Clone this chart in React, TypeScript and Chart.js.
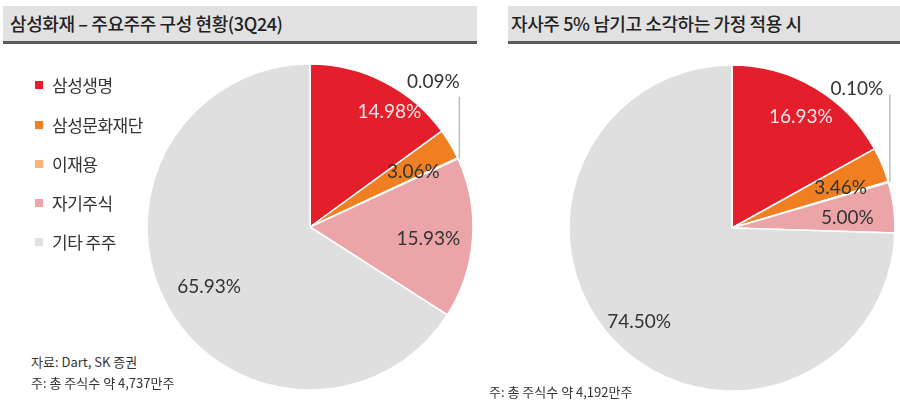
import React, { useEffect, useRef } from "react";
import { Chart, registerables } from "chart.js";

Chart.register(...registerables);

// ---- data ----
const CATEGORIES = ["삼성생명", "삼성문화재단", "이재용", "자기주식", "기타 주주"];
const CURRENT_SHARES = [14.98, 3.06, 0.09, 15.93, 65.93];
const AFTER_SHARES = [16.93, 3.46, 0.1, 5.0, 74.5];
const LEFT_TITLE = "삼성화재 – 주요주주 구성 현황(3Q24)";
const RIGHT_TITLE = "자사주 5% 남기고 소각하는 가정 적용 시";
const LEFT_NOTES = ["자료: Dart, SK 증권", "주: 총 주식수 약 4,737만주"];
const RIGHT_NOTES = ["주: 총 주식수 약 4,192만주"];

// ---- styles ----
const COLORS = ["#E41E2B", "#F07F22", "#FBB37A", "#EBA5A8", "#DFDFDF"];
const LABEL_COLORS = ["rgba(255,255,255,0.9)", "#333", "#333", "#333", "#333"];
const KR = '"Noto Sans CJK KR", "Noto Sans", sans-serif';

type LabelCfg = {
  radius: number[];
  nudge: number[];
  leaderIndex: number;
  leaderTop: number;
  leaderDx: number;
  leaderDy: number;
};

const LEFT_CFG: LabelCfg = {
  radius: [0.86, 0.72, 0, 0.73, 0.72],
  nudge: [7.5, 2.3, 0, 1.7, -2],
  leaderIndex: 2,
  leaderTop: 0.8,
  leaderDx: -26,
  leaderDy: -15,
};
const RIGHT_CFG: LabelCfg = {
  radius: [0.8, 0.71, 0, 0.71, 0.81],
  nudge: [1.4, 2.5, 0, 2.2, -1.2],
  leaderIndex: 2,
  leaderTop: 0.82,
  leaderDx: -33,
  leaderDy: -5,
};

function makeLabelPlugin(cfg: LabelCfg) {
  return {
    id: "sliceLabels",
    afterDatasetsDraw(chart: any) {
      const ctx = chart.ctx;
      const meta = chart.getDatasetMeta(0);
      const values = chart.data.datasets[0].data as number[];
      ctx.save();
      ctx.font = "400 19px Lato, sans-serif";
      ctx.textAlign = "center";
      ctx.textBaseline = "middle";
      meta.data.forEach((arc: any, i: number) => {
        const p = arc.getProps(["x", "y", "startAngle", "endAngle", "outerRadius"], true);
        const text = values[i].toFixed(2) + "%";
        const mid = (p.startAngle + p.endAngle) / 2;
        if (i === cfg.leaderIndex) {
          const ex = p.x + Math.cos(mid) * p.outerRadius + 1.5;
          const ey = p.y + Math.sin(mid) * p.outerRadius;
          const topY = p.y - p.outerRadius * cfg.leaderTop;
          ctx.strokeStyle = "#BDBDBD";
          ctx.lineWidth = 1.5;
          ctx.beginPath();
          ctx.moveTo(ex, ey);
          ctx.lineTo(ex, topY);
          ctx.stroke();
          ctx.fillStyle = LABEL_COLORS[i];
          ctx.fillText(text, ex + cfg.leaderDx, topY + cfg.leaderDy);
        } else {
          const a = mid + (cfg.nudge[i] * Math.PI) / 180;
          const r = p.outerRadius * cfg.radius[i];
          ctx.fillStyle = LABEL_COLORS[i];
          ctx.fillText(text, p.x + Math.cos(a) * r, p.y + Math.sin(a) * r);
        }
      });
      ctx.restore();
    },
  };
}

function PieCanvas(props: { values: number[]; cfg: LabelCfg; left: number; top: number }) {
  const ref = useRef<HTMLCanvasElement | null>(null);
  useEffect(() => {
    if (!ref.current) return;
    const chart = new Chart(ref.current, {
      type: "pie",
      data: {
        labels: CATEGORIES,
        datasets: [
          {
            data: props.values,
            backgroundColor: COLORS,
            borderColor: "#ffffff",
            borderWidth: 1.5,
          },
        ],
      },
      options: {
        responsive: false,
        maintainAspectRatio: false,
        animation: false,
        radius: 163,
        layout: { padding: 0 },
        plugins: {
          legend: { display: false },
          tooltip: { enabled: false },
        },
      } as any,
      plugins: [makeLabelPlugin(props.cfg)],
    });
    return () => chart.destroy();
  }, []);
  return (
    <canvas
      ref={ref}
      width={340}
      height={340}
      style={{ position: "absolute", left: props.left, top: props.top, width: 340, height: 340 }}
    />
  );
}

function Header(props: { text: string; left: number; width: number; pad: number }) {
  return (
    <div
      style={{
        position: "absolute",
        left: props.left,
        top: 6,
        width: props.width,
        height: 35,
        background: "#E1E1E1",
        borderBottom: "3px solid #5C5C5C",
        boxSizing: "content-box",
        fontFamily: KR,
        fontSize: 18,
        fontWeight: 500,
        letterSpacing: -0.4,
        color: "#222",
        lineHeight: "35px",
        paddingLeft: props.pad,
        whiteSpace: "nowrap",
        overflow: "hidden",
      }}
    >
      {props.text}
    </div>
  );
}

export default function App() {
  const legendY = [85, 125, 164, 203, 242];
  return (
    <div
      style={{
        position: "absolute",
        left: 0,
        top: 0,
        width: 900,
        height: 410,
        background: "#ffffff",
        overflow: "hidden",
      }}
    >
      <Header text={LEFT_TITLE} left={3} width={467} pad={7} />
      <Header text={RIGHT_TITLE} left={508} width={389} pad={3} />

      <PieCanvas values={CURRENT_SHARES} cfg={LEFT_CFG} left={140} top={57} />
      <PieCanvas values={AFTER_SHARES} cfg={RIGHT_CFG} left={562} top={58} />

      {CATEGORIES.map((c, i) => (
        <div key={c}>
          <div
            style={{
              position: "absolute",
              left: 35,
              top: legendY[i] - 4,
              width: 8,
              height: 8,
              background: COLORS[i],
            }}
          />
          <div
            style={{
              position: "absolute",
              left: 52,
              top: legendY[i] - 12,
              height: 24,
              lineHeight: "24px",
              fontFamily: KR,
              fontSize: 17,
              letterSpacing: -0.5,
              color: "#333",
              whiteSpace: "nowrap",
            }}
          >
            {c}
          </div>
        </div>
      ))}

      {LEFT_NOTES.map((t, i) => (
        <div
          key={t}
          style={{
            position: "absolute",
            left: 31,
            top: 353 + i * 21,
            lineHeight: "18px",
            fontFamily: KR,
            fontSize: 13,
            color: "#333",
            whiteSpace: "nowrap",
          }}
        >
          {t}
        </div>
      ))}
      {RIGHT_NOTES.map((t) => (
        <div
          key={t}
          style={{
            position: "absolute",
            left: 489,
            top: 383,
            lineHeight: "18px",
            fontFamily: KR,
            fontSize: 13,
            color: "#333",
            whiteSpace: "nowrap",
          }}
        >
          {t}
        </div>
      ))}
    </div>
  );
}
